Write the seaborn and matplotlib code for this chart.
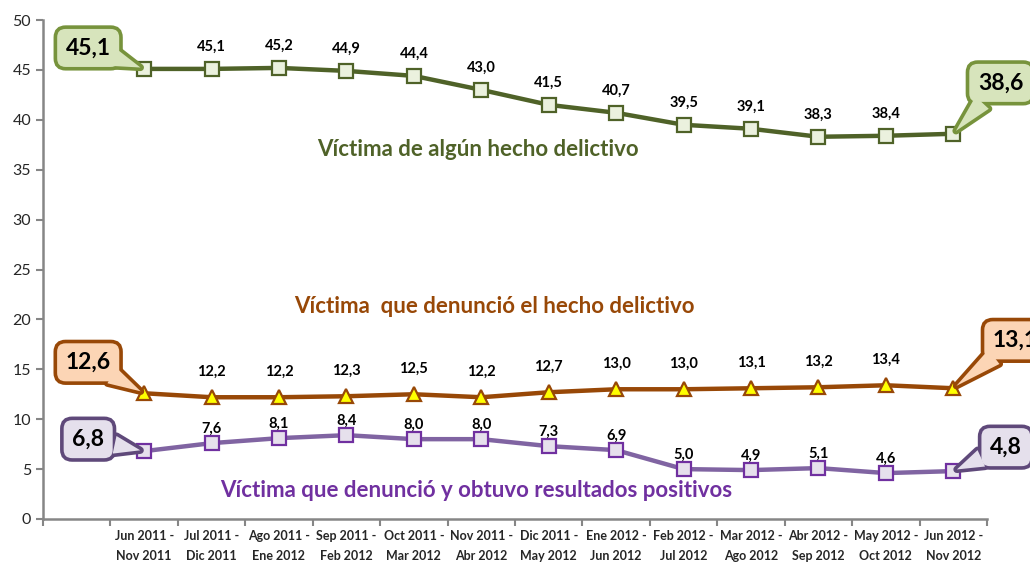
import pandas as pd
import seaborn as sns
import matplotlib.pyplot as plt
import matplotlib.patches as mpatches
import matplotlib.transforms as mtransforms
import numpy as np

# Data
periods = ['Jun 2011 -\nNov 2011', 'Jul 2011 -\nDic 2011', 'Ago 2011 -\nEne 2012',
           'Sep 2011 -\nFeb 2012', 'Oct 2011 -\nMar 2012', 'Nov 2011 -\nAbr 2012',
           'Dic 2011 -\nMay 2012', 'Ene 2012 -\nJun 2012', 'Feb 2012 -\nJul 2012',
           'Mar 2012 -\nAgo 2012', 'Abr 2012 -\nSep 2012', 'May 2012 -\nOct 2012',
           'Jun 2012 -\nNov 2012']
victima = [45.1, 45.1, 45.2, 44.9, 44.4, 43.0, 41.5, 40.7, 39.5, 39.1, 38.3, 38.4, 38.6]
denuncio = [12.6, 12.2, 12.2, 12.3, 12.5, 12.2, 12.7, 13.0, 13.0, 13.1, 13.2, 13.4, 13.1]
resultados = [6.8, 7.6, 8.1, 8.4, 8.0, 8.0, 7.3, 6.9, 5.0, 4.9, 5.1, 4.6, 4.8]

serie_names = ['Víctima de algún hecho delictivo',
               'Víctima  que denunció el hecho delictivo',
               'Víctima que denunció y obtuvo resultados positivos']

sns.set_style('ticks')
plt.rcParams['font.family'] = ['Lato', 'DejaVu Sans']

fig = plt.figure(figsize=(10.30, 5.62), dpi=100)
ax = fig.add_axes([43 / 1030, 43 / 562, 944 / 1030, 499 / 562])

# positions 1..13 (an empty slot at 0, like the original)
pos = np.arange(1, len(periods) + 1)

styles = [
    # series, line colour, marker, marker face, marker edge, label offset
    (victima, '#4F6228', 's', '#EBF1DE', '#4F6228', 16),
    (denuncio, '#984807', '^', '#FFFF00', '#984807', 18),
    (resultados, '#8064A2', 's', '#E6E0EC', '#7030A0', 10),
]

for vals, lc, mk, mfc, mec, off in styles:
    df = pd.DataFrame({'x': pos, 'y': vals})
    sns.lineplot(data=df, x='x', y='y', ax=ax, color=lc, linewidth=3.2,
                 marker=mk, markersize=10 if mk == 's' else 10.5,
                 markerfacecolor=mfc, markeredgecolor=mec, markeredgewidth=1.6,
                 zorder=3)
    # labels above the inner points
    for x, v in zip(pos[1:-1], vals[1:-1]):
        ax.annotate(f'{v:.1f}'.replace('.', ','), (x, v), xytext=(0, off),
                    textcoords='offset points', ha='center', va='center',
                    fontsize=10.5, fontweight='bold', color='black')

# axes
ax.set_xlim(-0.5, 13.5)
ax.set_ylim(0, 50)
ax.set_yticks(range(0, 51, 5))
ax.set_xticks(pos)
ax.set_xticklabels(periods, fontsize=9, fontweight='bold', linespacing=1.75)
ax.set_xticks(np.arange(-0.5, 13.6, 1), minor=True)
ax.tick_params(axis='x', which='major', length=0, pad=8)
ax.tick_params(axis='x', which='minor', length=5, width=1.5, color='#868686')
ax.tick_params(axis='y', length=5, width=1.5, color='#868686', labelsize=11.5)
ax.set_xlabel('')
ax.set_ylabel('')
for s in ['top', 'right']:
    ax.spines[s].set_visible(False)
for s in ['left', 'bottom']:
    ax.spines[s].set_color('#868686')
    ax.spines[s].set_linewidth(1.8)

# callouts: (series, index, box centre in data coords, fill, edge)
callouts = [
    (victima, 0, (0.17, 47.2), '#D7E4BC', '#77933C'),
    (victima, 12, (13.70, 43.7), '#D7E4BC', '#77933C'),
    (denuncio, 0, (0.17, 15.7), '#FCD5B5', '#984807'),
    (denuncio, 12, (13.92, 17.9), '#FCD5B5', '#984807'),
    (resultados, 0, (0.17, 8.0), '#E5E0EC', '#5F497A'),
    (resultados, 12, (13.78, 7.2), '#E5E0EC', '#5F497A'),
]
ident = mtransforms.IdentityTransform()
for vals, i, xyt, fc, ec in callouts:
    ax.text(xyt[0], xyt[1], f'{vals[i]:.1f}'.replace('.', ','),
            ha='center', va='center', fontsize=16.5, fontweight='bold', color='black',
            bbox=dict(boxstyle='round,pad=0.45,rounding_size=0.45', fc=fc, ec=ec, lw=2.6),
            zorder=5, clip_on=False)
    # pointer from box to the data point
    c = ax.transData.transform(xyt)
    tip = ax.transData.transform((pos[i], vals[i]))
    d = tip - c
    d = d / np.hypot(*d)
    p = np.array([-d[1], d[0]])
    base = c + d * 27
    tri = np.array([base + p * 9, tip - d * 4, base - p * 9])
    ax.add_patch(mpatches.Polygon(tri, closed=True, fc=fc, ec=ec, lw=5.2,
                                  joinstyle='round', transform=ident,
                                  clip_on=False, zorder=4))
    ax.add_patch(mpatches.Polygon(tri, closed=True, fc=fc, ec='none', lw=0,
                                  transform=ident, clip_on=False, zorder=6))

# series names
ax.text(5.95, 37.0, serie_names[0], ha='center', va='center', fontsize=16,
        fontweight='bold', color='#4F6228')
ax.text(6.2, 21.3, serie_names[1], ha='center', va='center', fontsize=16,
        fontweight='bold', color='#984807')
ax.text(5.92, 2.9, serie_names[2], ha='center', va='center', fontsize=16,
        fontweight='bold', color='#7030A0')

fig.savefig('out.png', dpi=100)
